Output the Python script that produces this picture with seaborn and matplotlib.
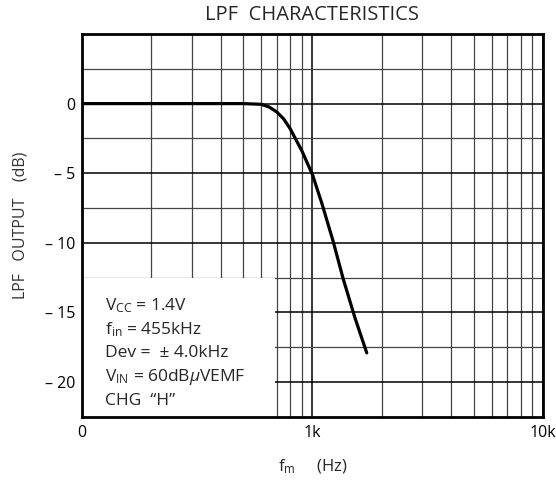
"""
LPF characteristics — LPF output vs modulation frequency
"""

import matplotlib
matplotlib.use("Agg")
import matplotlib.pyplot as plt
from matplotlib.patches import Rectangle
from matplotlib.ticker import FixedLocator, NullFormatter
import pandas as pd
import seaborn as sns

# curve
freq_hz = [100, 200, 300, 400, 500, 600, 650, 700, 750, 800, 900,
           1000, 1100, 1230, 1360, 1530, 1720]
output_db = [0, 0, 0, 0, 0, -0.05, -0.25, -0.6, -1.1, -1.8, -3.4,
             -5.1, -7.2, -9.9, -12.6, -15.4, -17.9]

x_ticks = [100, 1000, 10000]
x_tick_labels = ["0", "1k", "10k"]
y_ticks = [-20, -15, -10, -5, 0]
y_tick_labels = ["– 20", "– 15", "– 10", "– 5", "0"]

conditions = [
    r"V$_{\mathrm{CC}}$ = 1.4V",
    r"f$_{\mathrm{in}}$ = 455kHz",
    r"Dev =  ± 4.0kHz",
    r"V$_{\mathrm{IN}}$ = 60dB$\mu$VEMF",
    "CHG  \u201cH\u201d",
]

sns.set_style("white")
plt.rcParams["font.family"] = ["Open Sans", "DejaVu Sans"]
plt.rcParams["mathtext.fontset"] = "custom"
plt.rcParams["mathtext.rm"] = "Open Sans"
plt.rcParams["mathtext.it"] = "Open Sans:italic"

df = pd.DataFrame({"f": freq_hz, "db": output_db})

fig = plt.figure(figsize=(5.56, 4.82), dpi=100)
ax = fig.add_axes([0.1475, 0.135, 0.829, 0.7945])

sns.lineplot(data=df, x="f", y="db", ax=ax, color="black", linewidth=2.3,
             zorder=3)

ax.set_xscale("log")
ax.set_xlim(100, 10000)
ax.set_ylim(-22.5, 5)

ax.xaxis.set_major_locator(FixedLocator(x_ticks))
ax.set_xticklabels(x_tick_labels)
minor_x = [m * d for d in (100, 1000) for m in range(2, 10)]
ax.xaxis.set_minor_locator(FixedLocator(minor_x))
ax.xaxis.set_minor_formatter(NullFormatter())

ax.yaxis.set_major_locator(FixedLocator(y_ticks))
ax.set_yticklabels(y_tick_labels)
ax.yaxis.set_minor_locator(FixedLocator([-17.5, -12.5, -7.5, -2.5, 2.5]))

ax.set_axisbelow(True)
ax.grid(which="major", color="black", linewidth=1.1)
ax.grid(which="minor", color="#444444", linewidth=0.9)
ax.tick_params(which="both", length=0, labelsize=11.5, colors="black")
ax.tick_params(axis="x", pad=6)
ax.tick_params(axis="y", pad=5)

for s in ax.spines.values():
    s.set_color("black")
    s.set_linewidth(2)

# white panel behind the test conditions
ax.add_patch(Rectangle((100, -22.5), 590, 10, facecolor="white",
                       edgecolor="none", zorder=1))
for i, line in enumerate(conditions):
    ax.text(0.05, 0.29 - i * 0.062, line, transform=ax.transAxes,
            fontsize=12.5, va="center", ha="left", zorder=4)

ax.set_title("LPF  CHARACTERISTICS", fontsize=14.5, pad=10)
ax.set_xlabel(r"f$_{\mathrm{m}}$     (Hz)", fontsize=12, labelpad=12)
ax.set_ylabel("LPF   OUTPUT    (dB)", fontsize=11.5, color="#333333",
              labelpad=12)

fig.savefig("out.png", dpi=100)
plt.close(fig)
